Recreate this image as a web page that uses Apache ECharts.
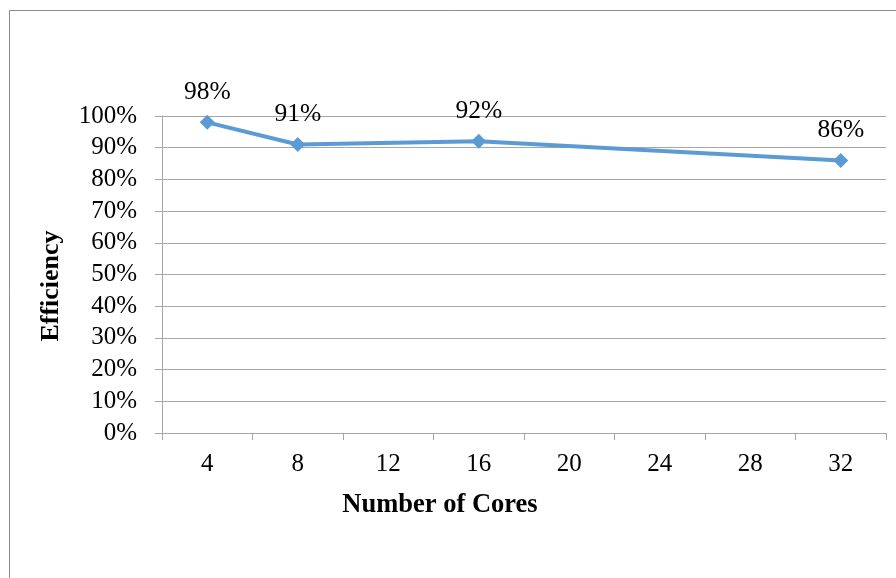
<!DOCTYPE html>
<html>
<head>
<meta charset="utf-8">
<script src="https://cdn.jsdelivr.net/npm/echarts@6/dist/echarts.min.js"></script>
<style>
  html, body { margin: 0; padding: 0; background: #fff; }
  #chart { width: 896px; height: 578px; }
</style>
</head>
<body>
<div id="chart"></div>
<script>
// Core counts on the x axis and measured parallel efficiency (null = not measured)
const coreCounts = ['4', '8', '12', '16', '20', '24', '28', '32'];
const efficiency = [0.98, 0.91, null, 0.92, null, null, null, 0.86];
const xAxisTitle = 'Number of Cores';
const yAxisTitle = 'Efficiency';

const serif = '"Liberation Serif", "DejaVu Serif", serif';
const gridGray = '#a6a6a6';

const chart = echarts.init(document.getElementById('chart'));
chart.setOption({
  animation: false,
  backgroundColor: '#fff',
  graphic: [
    {
      // chart area frame
      type: 'rect',
      shape: { x: 9.5, y: 10.5, width: 900, height: 600 },
      style: { fill: 'none', stroke: '#8c8c8c', lineWidth: 1 },
      silent: true
    },
    {
      type: 'text',
      x: 440, y: 505,
      style: {
        text: xAxisTitle, fontFamily: serif, fontSize: 26.5, fontWeight: 'bold',
        fill: '#000', align: 'center', verticalAlign: 'middle'
      },
      silent: true
    },
    {
      type: 'text',
      x: 51, y: 286,
      rotation: Math.PI / 2,
      style: {
        text: yAxisTitle, fontFamily: serif, fontSize: 26, fontWeight: 'bold',
        fill: '#000', align: 'center', verticalAlign: 'middle'
      },
      silent: true
    }
  ],
  grid: { left: 162, right: 10, top: 116, bottom: 145, containLabel: false },
  xAxis: {
    type: 'category',
    data: coreCounts,
    boundaryGap: true,
    axisLine: { lineStyle: { color: gridGray, width: 1 } },
    axisTick: { show: true, length: 7, alignWithLabel: false, lineStyle: { color: gridGray } },
    axisLabel: { fontFamily: serif, fontSize: 25, color: '#000', margin: 19 },
    splitLine: { show: false }
  },
  yAxis: {
    type: 'value',
    min: 0, max: 1, interval: 0.1,
    axisLine: { show: true, lineStyle: { color: gridGray, width: 1 } },
    axisTick: { show: true, length: 7, lineStyle: { color: gridGray } },
    axisLabel: {
      fontFamily: serif, fontSize: 25, color: '#000', margin: 25,
      formatter: v => Math.round(v * 100) + '%'
    },
    splitLine: { show: true, lineStyle: { color: gridGray, width: 1 } }
  },
  series: [{
    type: 'line',
    data: efficiency,
    connectNulls: true,
    symbol: 'diamond',
    symbolSize: 15,
    lineStyle: { color: '#5b9bd5', width: 4 },
    itemStyle: { color: '#5b9bd5' },
    label: {
      show: true,
      position: 'top',
      distance: 10,
      fontFamily: serif, fontSize: 25.5, color: '#000',
      formatter: p => Math.round(p.value * 100) + '%'
    }
  }]
});
</script>
</body>
</html>
